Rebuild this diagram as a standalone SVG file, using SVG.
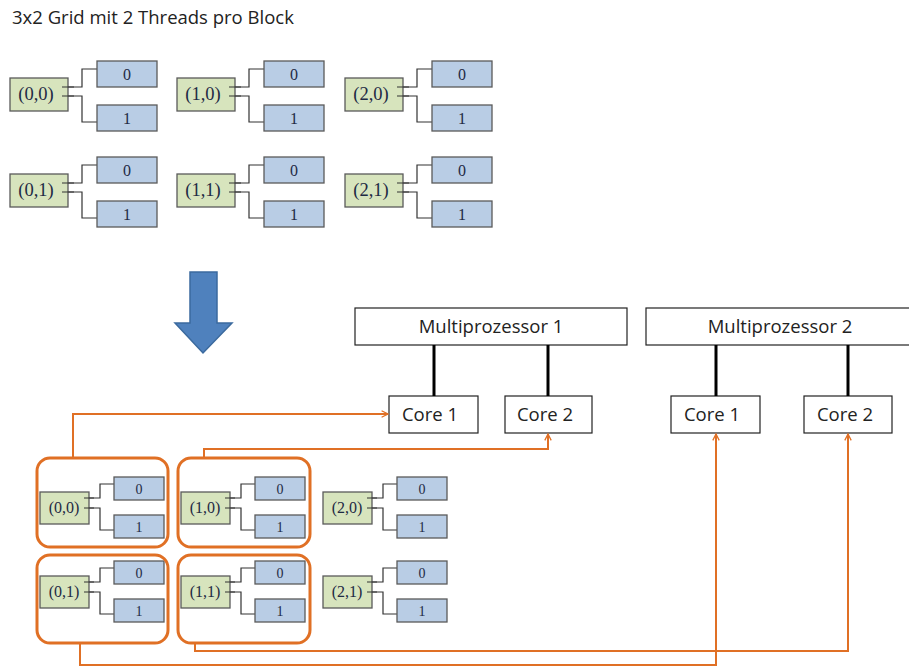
<svg xmlns="http://www.w3.org/2000/svg" width="909" height="668" viewBox="0 0 909 668">
  <defs>
    <style>
      .title { font-family: "Open Sans", "Liberation Sans", sans-serif; font-size: 18.5px; fill: #222; }
      .blk { fill: #D7E4BD; stroke: #5a5a5a; stroke-width: 1.3; }
      .thr { fill: #B9CDE5; stroke: #5a5a5a; stroke-width: 1.3; }
      .wire { fill: none; stroke: #333; stroke-width: 1.2; }
      .lbl { font-family: "Liberation Serif", "DejaVu Serif", serif; fill: #1e2a44; text-anchor: middle; }
      .big { font-size: 16px; }
      .bigb { font-size: 18.5px; }
      .small { font-size: 14px; }
      .smallb { font-size: 16px; }
      .hw { fill: #fff; stroke: #222; stroke-width: 1.2; }
      .hwtxt { font-family: "Open Sans", "Liberation Sans", sans-serif; font-size: 18.5px; fill: #222; text-anchor: middle; }
      .bus { stroke: #000; stroke-width: 3; }
      .grp { fill: none; stroke: #E07025; stroke-width: 3; }
      .route { fill: none; stroke: #E07025; stroke-width: 2; }
    </style>
    <marker id="chev" viewBox="0 0 10 10" refX="9" refY="5" markerWidth="8" markerHeight="8" markerUnits="userSpaceOnUse" orient="auto">
      <path d="M1,1 L9,5 L1,9" fill="none" stroke="#E07025" stroke-width="1.6"/>
    </marker>
    <!-- large thread block (top grid) -->
    <g id="tplBig">
      <path class="wire" d="M52,26 H72 V8 H87 M52,35 H72 V61 H87"/>
      <rect class="blk" x="0" y="17" width="58" height="33"/>
      <path class="wire" d="M52,26 H64 M52,35 H64"/>
      <rect class="thr" x="87" y="0" width="60" height="26"/>
      <rect class="thr" x="87" y="44" width="60" height="26"/>
      <text class="lbl big" x="117" y="19">0</text>
      <text class="lbl big" x="117" y="63">1</text>
    </g>
    <!-- small thread block (bottom grid) -->
    <g id="tplSmall">
      <path class="wire" d="M44,21 H60 V7 H74 M44,31 H60 V53 H74"/>
      <rect class="blk" x="0" y="15" width="49" height="32"/>
      <path class="wire" d="M44,21 H54 M44,31 H54"/>
      <rect class="thr" x="74" y="0" width="50" height="23"/>
      <rect class="thr" x="74" y="38" width="50" height="23"/>
      <text class="lbl small" x="99" y="17">0</text>
      <text class="lbl small" x="99" y="55">1</text>
    </g>
  </defs>

  <rect width="909" height="668" fill="#fff"/>

  <text class="title" x="12" y="24">3x2 Grid mit 2 Threads pro Block</text>

  <!-- top grid -->
  <g id="top-0-0" transform="translate(10,61)"><use href="#tplBig"/><text class="lbl bigb" x="26" y="39">(0,0)</text></g>
  <g id="top-1-0" transform="translate(177,61)"><use href="#tplBig"/><text class="lbl bigb" x="26" y="39">(1,0)</text></g>
  <g id="top-2-0" transform="translate(345,61)"><use href="#tplBig"/><text class="lbl bigb" x="26" y="39">(2,0)</text></g>
  <g id="top-0-1" transform="translate(10,157)"><use href="#tplBig"/><text class="lbl bigb" x="26" y="39">(0,1)</text></g>
  <g id="top-1-1" transform="translate(177,157)"><use href="#tplBig"/><text class="lbl bigb" x="26" y="39">(1,1)</text></g>
  <g id="top-2-1" transform="translate(345,157)"><use href="#tplBig"/><text class="lbl bigb" x="26" y="39">(2,1)</text></g>

  <!-- mapping arrow -->
  <g id="down-arrow">
    <path d="M190,272 H217 V323 H232 L203,353 L175,323 H190 Z" fill="#4F81BD" stroke="#3B6A9E" stroke-width="1.5"/>
  </g>

  <!-- hardware -->
  <g id="mp1">
    <rect class="hw" x="355" y="308" width="272" height="37"/>
    <text class="hwtxt" x="491" y="333">Multiprozessor 1</text>
  </g>
  <g id="mp2">
    <rect class="hw" x="646" y="308" width="270" height="37"/>
    <text class="hwtxt" x="780" y="333">Multiprozessor 2</text>
  </g>
  <g id="mp1-core1">
    <rect class="hw" x="389" y="396" width="89" height="37"/>
    <text class="hwtxt" x="430" y="421">Core 1</text>
  </g>
  <g id="mp1-core2">
    <rect class="hw" x="505" y="396" width="87" height="37"/>
    <text class="hwtxt" x="545" y="421">Core 2</text>
  </g>
  <g id="mp2-core1">
    <rect class="hw" x="671" y="396" width="89" height="37"/>
    <text class="hwtxt" x="712" y="421">Core 1</text>
  </g>
  <g id="mp2-core2">
    <rect class="hw" x="804" y="396" width="88" height="37"/>
    <text class="hwtxt" x="845" y="421">Core 2</text>
  </g>

  <!-- bottom grid -->
  <g id="bot-0-0" transform="translate(40,477)"><use href="#tplSmall"/><text class="lbl smallb" x="24" y="36">(0,0)</text></g>
  <g id="bot-1-0" transform="translate(181,477)"><use href="#tplSmall"/><text class="lbl smallb" x="24" y="36">(1,0)</text></g>
  <g id="bot-2-0" transform="translate(323,477)"><use href="#tplSmall"/><text class="lbl smallb" x="24" y="36">(2,0)</text></g>
  <g id="bot-0-1" transform="translate(40,561)"><use href="#tplSmall"/><text class="lbl smallb" x="24" y="36">(0,1)</text></g>
  <g id="bot-1-1" transform="translate(181,561)"><use href="#tplSmall"/><text class="lbl smallb" x="24" y="36">(1,1)</text></g>
  <g id="bot-2-1" transform="translate(323,561)"><use href="#tplSmall"/><text class="lbl smallb" x="24" y="36">(2,1)</text></g>

  <!-- block groupings -->
  <g id="groups">
    <rect class="grp" x="37" y="458" width="131" height="89" rx="13"/>
    <rect class="grp" x="178" y="458" width="132" height="89" rx="13"/>
    <rect class="grp" x="37" y="555" width="131" height="88" rx="13"/>
    <rect class="grp" x="178" y="555" width="132" height="88" rx="13"/>
  </g>

  <!-- connectors -->
  <g id="connectors">
    <line class="bus" x1="434" y1="345" x2="434" y2="396"/>
    <line class="bus" x1="548" y1="345" x2="548" y2="396"/>
    <line class="bus" x1="716" y1="345" x2="716" y2="396"/>
    <line class="bus" x1="848" y1="345" x2="848" y2="396"/>
    <path class="route" d="M73,458 V414 H388" marker-end="url(#chev)"/>
    <path class="route" d="M204,458 V449 H548 V434" marker-end="url(#chev)"/>
    <path class="route" d="M80,643 V665 H716 V434" marker-end="url(#chev)"/>
    <path class="route" d="M195,643 V651 H848 V434" marker-end="url(#chev)"/>
  </g>
</svg>
